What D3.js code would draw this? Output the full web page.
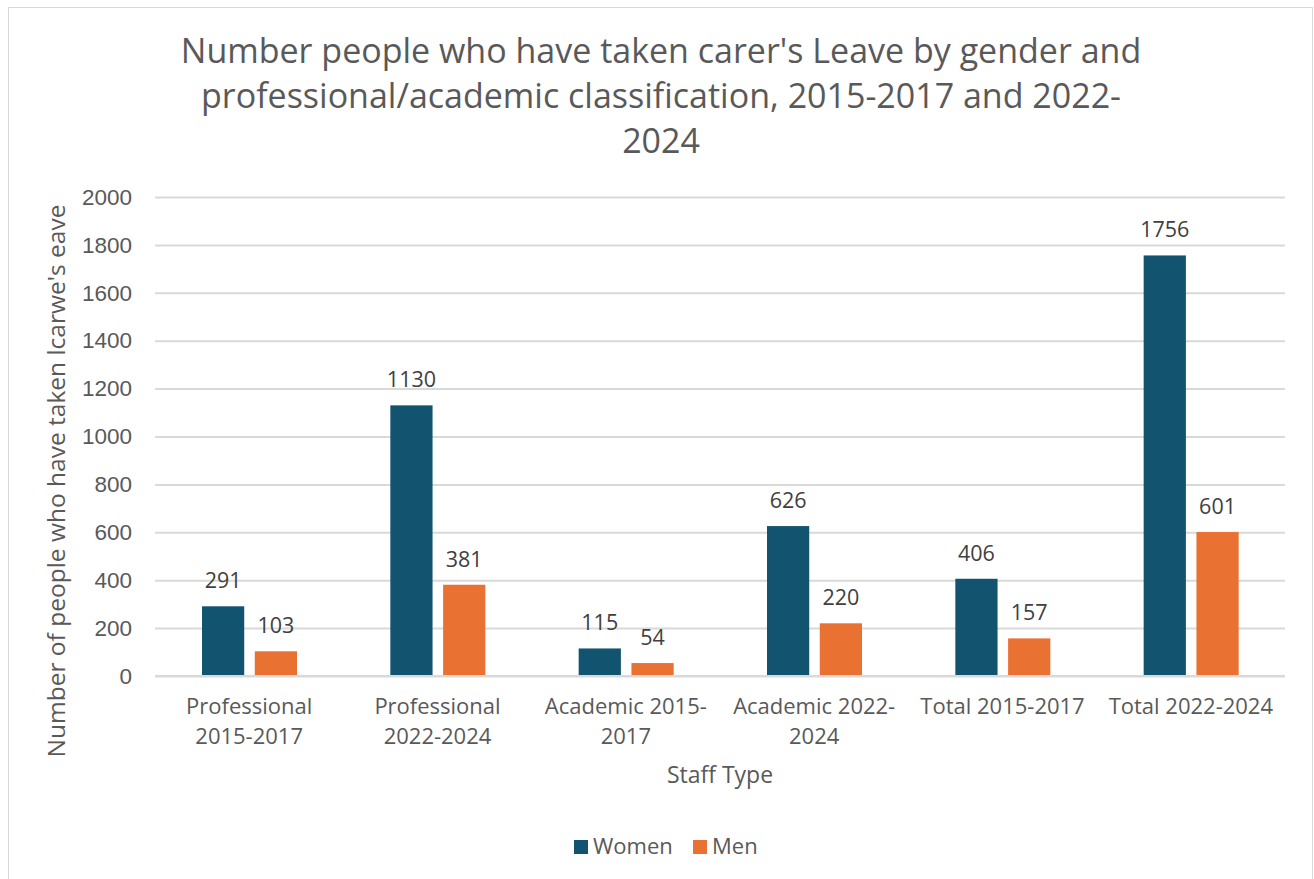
<!DOCTYPE html>
<html>
<head>
<meta charset="utf-8">
<script src="https://cdn.jsdelivr.net/npm/d3@7"></script>
<style>
  body { margin: 0; background: #fff; }
  svg { font-family: "Open Sans", "Liberation Sans", sans-serif; }
</style>
</head>
<body>
<div id="chart"></div>
<script>
const categories = [
  ["Professional", "2015-2017"],
  ["Professional", "2022-2024"],
  ["Academic 2015-", "2017"],
  ["Academic 2022-", "2024"],
  ["Total 2015-2017"],
  ["Total 2022-2024"]
];
const women = [291, 1130, 115, 626, 406, 1756];
const men = [103, 381, 54, 220, 157, 601];
const seriesNames = ["Women", "Men"];
const seriesColors = ["#12536f", "#e97132"];
const yTicks = [0, 200, 400, 600, 800, 1000, 1200, 1400, 1600, 1800, 2000];
const titleLines = [
  "Number people who have taken carer's Leave by gender and",
  "professional/academic classification, 2015-2017 and 2022-",
  "2024"
];

const width = 1314, height = 879;
const margin = {top: 197, right: 29, bottom: 203, left: 155};

const svg = d3.select("#chart").append("svg")
  .attr("width", width)
  .attr("height", height);

// chart border
svg.append("rect")
  .attr("x", 8.5).attr("y", 7.5)
  .attr("width", 1304).attr("height", 880)
  .attr("fill", "#fff")
  .attr("stroke", "#d9d9d9");

const x = d3.scaleBand()
  .domain(d3.range(categories.length))
  .range([margin.left, width - margin.right]);

const x1 = d3.scaleBand()
  .domain([0, 1])
  .range([47, 142])
  .paddingInner(0.2);

const y = d3.scaleLinear()
  .domain([0, 2000])
  .range([height - margin.bottom, margin.top]);

// gridlines + y ticks
const yAxis = svg.append("g")
  .attr("transform", `translate(${margin.left},0)`)
  .call(d3.axisLeft(y).tickValues(yTicks).tickFormat(d3.format("d"))
    .tickSize(-(width - margin.left - margin.right)).tickPadding(23));
yAxis.select(".domain").remove();
yAxis.selectAll("line").attr("stroke", "#d9d9d9").attr("stroke-width", 2);
yAxis.selectAll("text")
  .attr("fill", "#595959")
  .style("font-size", "22.5px");

// bars
const rows = categories.map((c, i) => [women[i], men[i]]);
const groups = svg.append("g").selectAll("g")
  .data(rows)
  .join("g")
  .attr("transform", (d, i) => `translate(${x(i)},0)`);

groups.selectAll("rect")
  .data(d => d)
  .join("rect")
  .attr("x", (d, j) => x1(j))
  .attr("y", d => y(d))
  .attr("width", x1.bandwidth())
  .attr("height", d => y(0) - y(d))
  .attr("fill", (d, j) => seriesColors[j]);

groups.selectAll("text")
  .data(d => d)
  .join("text")
  .attr("x", (d, j) => x1(j) + x1.bandwidth() / 2)
  .attr("y", d => y(d) - 18)
  .attr("text-anchor", "middle")
  .attr("fill", "#404040")
  .style("font-size", "21.5px")
  .text(d => d);

// baseline
svg.append("line")
  .attr("x1", margin.left).attr("x2", width - margin.right)
  .attr("y1", y(0)).attr("y2", y(0))
  .attr("stroke", "#d9d9d9").attr("stroke-width", 2);

// x category labels
svg.append("g").selectAll("text")
  .data(categories)
  .join("text")
  .attr("text-anchor", "middle")
  .attr("fill", "#595959")
  .style("font-size", "22px")
  .attr("transform", (d, i) => `translate(${x(i) + x.bandwidth() / 2},${y(0) + 38})`)
  .selectAll("tspan")
  .data(d => d)
  .join("tspan")
  .attr("x", 0)
  .attr("dy", (d, k) => k === 0 ? 0 : 30)
  .text(d => d);

// title
svg.append("text")
  .attr("text-anchor", "middle")
  .attr("fill", "#595959")
  .style("font-size", "34px")
  .attr("transform", "translate(661,63)")
  .selectAll("tspan")
  .data(titleLines)
  .join("tspan")
  .attr("x", 0)
  .attr("dy", (d, k) => k === 0 ? 0 : 45)
  .text(d => d);

// axis titles
svg.append("text")
  .attr("transform", "translate(65,481) rotate(-90)")
  .attr("text-anchor", "middle")
  .attr("fill", "#595959")
  .style("font-size", "24.5px")
  .text("Number of people who have taken lcarwe's eave");

svg.append("text")
  .attr("x", (margin.left + width - margin.right) / 2)
  .attr("y", 783)
  .attr("text-anchor", "middle")
  .attr("fill", "#595959")
  .style("font-size", "23px")
  .text("Staff Type");

// legend
const legend = svg.append("g").attr("transform", "translate(574,840)");
const legendItems = legend.selectAll("g")
  .data(seriesNames)
  .join("g")
  .attr("transform", (d, i) => `translate(${i * 119},0)`);
legendItems.append("rect")
  .attr("width", 14).attr("height", 14)
  .attr("fill", (d, i) => seriesColors[i]);
legendItems.append("text")
  .attr("x", 19).attr("y", 14)
  .attr("fill", "#595959")
  .style("font-size", "22px")
  .text(d => d);
</script>
</body>
</html>
